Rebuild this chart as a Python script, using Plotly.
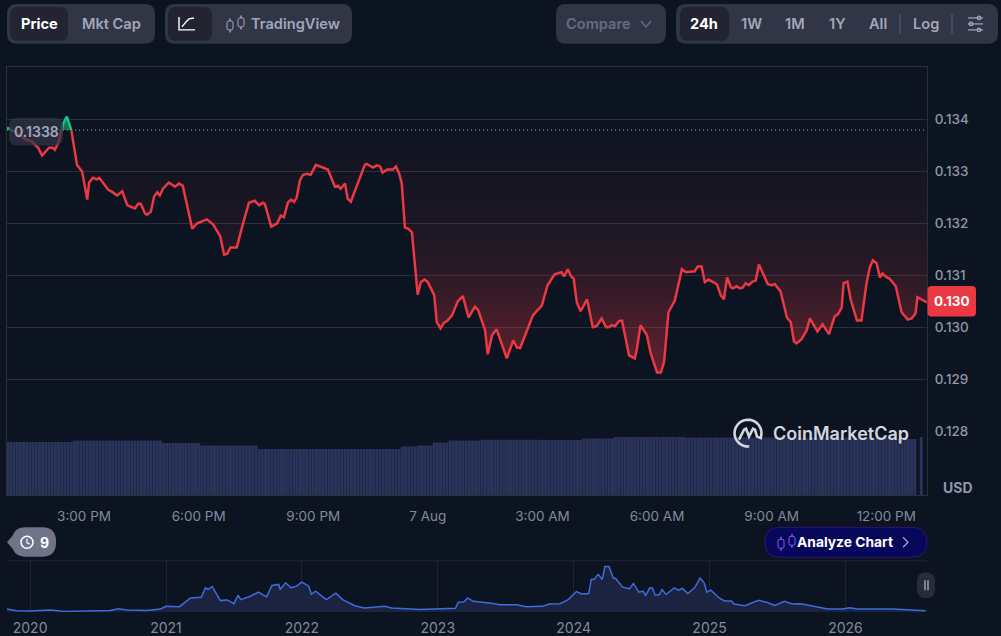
import math

import numpy as np
import pandas as pd
import plotly.graph_objects as go

W, H = 1001, 636
BG = "#0d1421"
GRID = "#2a2f3c"
PANEL = "#323546"
TAB = "#222531"
MUTED = "#a1a7bb"
AXIS_TEXT = "#808a9d"
RED = "#ea3943"
GREEN = "#16c784"
FONT = "Inter"

# --- Data ---
BASE_DAY = "2026-08-06"
BASELINE = 0.1338
PRICE_TICKS = [0.128, 0.129, 0.130, 0.131, 0.132, 0.133, 0.134]

# minutes after midnight of 6 Aug
price_minutes = [
    779, 785, 792, 807, 818, 828, 834, 845, 851, 854, 859, 865, 867, 873, 878, 880, 881, 889, 897, 905,
    908, 914, 920, 924, 938, 944, 952, 960, 968, 977, 980, 985, 989, 996, 999, 1005, 1010, 1015, 1019, 1024,
    1033, 1043, 1049, 1055, 1070, 1077, 1093, 1103, 1114, 1120, 1125, 1130, 1140, 1148, 1159, 1168, 1175, 1181, 1184, 1194,
    1203, 1209, 1214, 1220, 1225, 1230, 1234, 1239, 1244, 1250, 1256, 1264, 1275, 1283, 1294, 1299, 1303, 1310, 1314, 1319,
    1341, 1344, 1354, 1360, 1365, 1369, 1376, 1385, 1390, 1395, 1399, 1404, 1409, 1415, 1424, 1429, 1435, 1440, 1450, 1454,
    1460, 1465, 1471, 1478, 1487, 1495, 1504, 1514, 1519, 1530, 1534, 1541, 1548, 1564, 1574, 1580, 1585, 1605, 1611, 1619,
    1628, 1639, 1650, 1654, 1660, 1665, 1669, 1674, 1680, 1690, 1699, 1705, 1713, 1720, 1724, 1729, 1734, 1740, 1745, 1756,
    1765, 1768, 1774, 1784, 1790, 1800, 1806, 1811, 1818, 1828, 1839, 1845, 1859, 1864, 1870, 1875, 1881, 1894, 1900, 1905,
    1910, 1916, 1919, 1925, 1930, 1935, 1939, 1944, 1950, 1955, 1960, 1974, 1980, 1985, 1994, 2004, 2010, 2015, 2019, 2027,
    2035, 2040, 2052, 2060, 2070, 2079, 2084, 2090, 2093, 2099, 2104, 2114, 2121, 2129, 2134, 2139, 2145, 2150, 2154, 2161,
    2165, 2175, 2184, 2194, 2200, 2206, 2209, 2224,
]
prices = [
    0.13385, 0.1338, 0.13377, 0.13363, 0.13358, 0.13346, 0.13331, 0.13346, 0.13346, 0.13342, 0.13354, 0.1338, 0.13392, 0.13406, 0.13388, 0.1338, 0.13373, 0.13313, 0.133, 0.13246,
    0.13279, 0.13288, 0.13285, 0.13288, 0.13265, 0.13261, 0.13254, 0.13262, 0.13235, 0.13231, 0.13229, 0.13238, 0.13238, 0.13219, 0.13217, 0.13223, 0.13252, 0.1326, 0.13254, 0.13267,
    0.13279, 0.13271, 0.13277, 0.13273, 0.1319, 0.132, 0.13208, 0.13198, 0.13175, 0.1314, 0.13142, 0.13154, 0.13154, 0.13192, 0.1324, 0.13244, 0.13235, 0.1324, 0.13238, 0.13194,
    0.132, 0.13215, 0.13212, 0.1324, 0.13246, 0.13242, 0.1325, 0.13283, 0.13294, 0.13296, 0.13294, 0.13313, 0.13308, 0.13304, 0.13271, 0.13273, 0.13267, 0.13277, 0.13248, 0.13242,
    0.13313, 0.13315, 0.13308, 0.13312, 0.1331, 0.13298, 0.13304, 0.13304, 0.1331, 0.13296, 0.13277, 0.13192, 0.1319, 0.13183, 0.13063, 0.13087, 0.13092, 0.13087, 0.13062, 0.1301,
    0.12998, 0.13008, 0.13013, 0.13023, 0.1305, 0.1306, 0.13019, 0.1304, 0.13033, 0.12994, 0.12948, 0.12985, 0.12996, 0.1294, 0.12975, 0.12961, 0.1296, 0.13023, 0.13031, 0.13042,
    0.13081, 0.13102, 0.13106, 0.13098, 0.13112, 0.13098, 0.13094, 0.13048, 0.13031, 0.13054, 0.13, 0.13002, 0.13017, 0.13, 0.13, 0.13004, 0.13002, 0.13012, 0.13013, 0.12946,
    0.1294, 0.12956, 0.13004, 0.12985, 0.1295, 0.12913, 0.12913, 0.12933, 0.13029, 0.13052, 0.13112, 0.13106, 0.13108, 0.13117, 0.13117, 0.13087, 0.13092, 0.13083, 0.13062, 0.13054,
    0.13096, 0.13077, 0.13075, 0.13079, 0.13075, 0.13077, 0.13085, 0.13081, 0.13088, 0.1309, 0.13121, 0.13083, 0.13081, 0.13083, 0.13069, 0.13019, 0.1301, 0.12973, 0.12969, 0.12977,
    0.12994, 0.13017, 0.12992, 0.13006, 0.12987, 0.13021, 0.13025, 0.13038, 0.13085, 0.13088, 0.13054, 0.13013, 0.13013, 0.13085, 0.13115, 0.13129, 0.13123, 0.13096, 0.13104, 0.13096,
    0.13094, 0.13079, 0.13029, 0.13015, 0.13017, 0.13027, 0.13058, 0.13048,
]

# volume bars come every 5 minutes, the picture shows them as long flat steps
volume_levels = [53, 54.5, 52, 49.5, 46, 48.5, 49.5, 52.5, 54.5, 55.3, 55, 56.5, 58, 57.5, 56, 0, 58]
volume_runs = [21, 28, 12, 18, 45, 5, 5, 5, 10, 19, 13, 10, 22, 66, 7, 1, 1]

time_ticks = [900, 1080, 1260, 1440, 1620, 1800, 1980, 2160]
time_labels = ["3:00 PM", "6:00 PM", "9:00 PM", "7 Aug", "3:00 AM", "6:00 AM", "9:00 AM", "12:00 PM"]

history_years = [
    2019.83, 2019.90, 2020.00, 2020.10, 2020.15, 2020.25, 2020.39, 2020.59, 2020.65, 2020.71, 2020.86, 2020.96, 2021.00, 2021.10,
    2021.18, 2021.26, 2021.29, 2021.31, 2021.34, 2021.37, 2021.40, 2021.45, 2021.50, 2021.53, 2021.55, 2021.62, 2021.68, 2021.74,
    2021.78, 2021.83, 2021.84, 2021.88, 2021.92, 2021.96, 2022.00, 2022.05, 2022.07, 2022.10, 2022.18, 2022.25, 2022.30, 2022.39,
    2022.46, 2022.61, 2022.66, 2022.87, 2022.99, 2023.13, 2023.15, 2023.19, 2023.22, 2023.26, 2023.38, 2023.46, 2023.58, 2023.65,
    2023.77, 2023.82, 2023.90, 2023.96, 2024.02, 2024.06, 2024.11, 2024.13, 2024.15, 2024.18, 2024.21, 2024.23, 2024.26, 2024.29,
    2024.31, 2024.36, 2024.41, 2024.44, 2024.48, 2024.51, 2024.53, 2024.56, 2024.58, 2024.60, 2024.63, 2024.65, 2024.68, 2024.74,
    2024.77, 2024.80, 2024.84, 2024.89, 2024.93, 2024.96, 2024.98, 2025.01, 2025.07, 2025.11, 2025.16, 2025.18, 2025.26, 2025.36,
    2025.42, 2025.48, 2025.55, 2025.61, 2025.67, 2025.78, 2025.87, 2025.98, 2026.03, 2026.09, 2026.35, 2026.59,
]
history_prices = [
    0.18, 0.08, 0.06, 0.08, 0.12, 0.04, 0.08, 0.10, 0.20, 0.12, 0.10, 0.18, 0.34, 0.32,
    0.84, 0.88, 1.44, 1.34, 1.52, 1.14, 0.68, 0.72, 0.50, 1.00, 0.74, 0.94, 1.18, 0.90,
    1.58, 1.64, 1.34, 1.74, 1.44, 1.54, 1.78, 1.54, 1.06, 1.24, 0.74, 1.12, 0.74, 0.38,
    0.24, 0.34, 0.24, 0.16, 0.18, 0.22, 0.58, 0.60, 0.84, 0.64, 0.54, 0.44, 0.44, 0.32,
    0.34, 0.48, 0.50, 0.74, 1.22, 1.08, 1.10, 1.94, 1.94, 2.24, 1.94, 2.70, 2.70, 2.04,
    1.98, 1.48, 1.38, 1.70, 1.18, 1.24, 1.00, 1.44, 1.42, 1.00, 1.04, 1.34, 1.04, 1.44,
    1.30, 1.40, 1.10, 1.44, 2.02, 1.74, 1.18, 1.30, 0.84, 0.66, 0.66, 0.48, 0.38, 0.70,
    0.58, 0.40, 0.64, 0.48, 0.50, 0.30, 0.18, 0.18, 0.26, 0.18, 0.18, 0.08,
]
year_ticks = [2020, 2021, 2022, 2023, 2024, 2025, 2026]


def to_time(minutes):
    return pd.Timestamp(BASE_DAY) + pd.to_timedelta(minutes, unit="min")


def fx(px):
    return px / W


def fy(py):
    return 1 - py / H


def path_of(points, close=False):
    """Pixel points to a paper path."""
    cmds = [("M" if i == 0 else "L") + f"{fx(x):.5f},{fy(y):.5f}" for i, (x, y) in enumerate(points)]
    return " ".join(cmds) + (" Z" if close else "")


def rounded(x0, y0, x1, y1, r):
    c = lambda x, y: f"{fx(x):.5f},{fy(y):.5f}"
    return (f"M{c(x0 + r, y0)} L{c(x1 - r, y0)} Q{c(x1, y0)} {c(x1, y0 + r)} L{c(x1, y1 - r)} "
            f"Q{c(x1, y1)} {c(x1 - r, y1)} L{c(x0 + r, y1)} Q{c(x0, y1)} {c(x0, y1 - r)} "
            f"L{c(x0, y0 + r)} Q{c(x0, y0)} {c(x0 + r, y0)} Z")


shapes = []
annotations = []


def box(x0, y0, x1, y1, r, fill, line=None, layer="above"):
    shapes.append(dict(type="path", path=rounded(x0, y0, x1, y1, r), xref="paper", yref="paper",
                       fillcolor=fill, line=dict(color=line or fill, width=1 if line else 0), layer=layer))


def stroke(points, color, width=1.5):
    shapes.append(dict(type="path", path=path_of(points), xref="paper", yref="paper",
                       line=dict(color=color, width=width), layer="above"))


def ring(cx, cy, r, color, width=1.5):
    shapes.append(dict(type="circle", xref="paper", yref="paper", x0=fx(cx - r), x1=fx(cx + r),
                       y0=fy(cy + r), y1=fy(cy - r), line=dict(color=color, width=width), layer="above"))


def label(px, py, text, size=14.6, color=MUTED, weight=600, anchor="center"):
    annotations.append(dict(x=fx(px), y=fy(py), xref="paper", yref="paper", text=text, showarrow=False,
                            xanchor=anchor, yanchor="middle", borderpad=0,
                            font=dict(family=FONT, size=size, color=color, weight=weight)))


def candle_icon(x, cy, color, fill):
    # two little candles, used on TradingView and Analyze Chart
    for cx, dy in ((x, 1.5), (x + 11, -1.5)):
        stroke([(cx, cy + dy - 7), (cx, cy + dy + 7)], color, 1.4)
        box(cx - 3, cy + dy - 4.5, cx + 3, cy + dy + 4.5, 2, fill, color)


# --- Toolbar ---
box(7, 4, 155, 44, 10, PANEL)
box(10, 7, 68, 41, 8, TAB)
label(39, 24, "Price", color="#ffffff", weight=700)
label(111, 24, "Mkt Cap")

box(165, 4, 352, 44, 10, PANEL)
box(168, 7, 212, 41, 8, TAB)
stroke([(179, 17), (179, 30), (195, 30)], "#ffffff", 1.4)
stroke([(182, 27), (186, 22), (189, 19), (194, 18)], "#ffffff", 1.4)
candle_icon(230, 24, MUTED, PANEL)
label(295, 24, "TradingView")

box(556, 4, 666, 44, 10, PANEL)
label(598, 24, "Compare", color="#616e85")
stroke([(641, 21), (646, 27), (651, 21)], "#616e85", 1.4)

box(676, 4, 998, 44, 10, PANEL)
box(680, 7, 729, 41, 8, TAB)
label(704, 24, "24h", color="#ffffff", weight=700)
for cx, txt in ((751, "1W"), (795, "1M"), (837, "1Y"), (878, "All"), (926, "Log")):
    label(cx, 24, txt)
for sx in (900, 952):
    stroke([(sx, 14), (sx, 34)], "#5a5f72", 1)
for sy, kx in ((18, 979), (24, 971), (30, 979)):
    stroke([(968, sy), (983, sy)], MUTED, 1.2)
    ring(kx, sy, 1.8, MUTED, 1.2)

# --- Floating badges ---
box(9, 118, 63, 146, 8, "rgba(50,53,70,0.72)")
label(36, 132, "0.1338", size=14, color=MUTED, weight=600)

box(927.5, 287, 976, 317.5, 4, RED)
label(951.5, 302, "0.130", size=13.5, color="#ffffff", weight=700)
label(958, 489.5, "USD", size=14, color="#8f96a8", weight=700)

shapes.append(dict(type="path", xref="paper", yref="paper", layer="above", fillcolor="#6f7488", line=dict(width=0),
                   path=path_of([(7, 544), (14, 536), (14, 552)], close=True)))
box(12, 529, 56, 558.5, 14, "#6f7488")
ring(27, 544, 6, "#ffffff", 1.5)
stroke([(27, 540.5), (27, 544.5), (30, 546)], "#ffffff", 1.2)
label(44, 544, "9", size=14, color="#ffffff", weight=700)

box(765, 529, 927, 559, 15, "#07075c", "#33146f")
candle_icon(781, 544, "#8b5cf6", "#07075c")
label(845, 544, "Analyze Chart", size=13.8, color="#ffffff", weight=700)
stroke([(903, 539), (908, 544), (903, 549)], MUTED, 1.3)

box(917, 574, 935, 600, 9, "#282b3a")
stroke([(925, 582), (925, 592)], MUTED, 1.4)
stroke([(928, 582), (928, 592)], MUTED, 1.4)

# --- Watermark ---
LOGO = "#d3d6de"
arc = [(748 + 13.5 * math.cos(math.radians(a)), 434.5 - 13.5 * math.sin(math.radians(a))) for a in range(-25, 290, 15)]
stroke(arc, LOGO, 2.6)
stroke([(739, 441), (744, 431), (746, 430), (749, 438), (753, 430), (755, 431), (757, 438), (762, 440)], LOGO, 2.6)
label(772, 435, "CoinMarketCap", size=18, color=LOGO, weight=600, anchor="left")

# --- Traces ---
times = to_time(np.array(price_minutes))
price_arr = np.array(prices)
base_arr = np.full(len(prices), BASELINE)
volumes = np.repeat(volume_levels, volume_runs)
volume_times = to_time(780 + 5 * np.arange(len(volumes)))

fig = go.Figure()

# fills between the open price and the line
fig.add_trace(go.Scatter(x=times, y=base_arr, mode="lines", line=dict(width=0), hoverinfo="skip"))
fig.add_trace(go.Scatter(x=times, y=np.minimum(price_arr, BASELINE), mode="lines", line=dict(width=0), fill="tonexty",
                         fillgradient=dict(type="vertical", colorscale=[
                             [0, "rgba(234,57,67,0.38)"], [0.19, "rgba(234,57,67,0.27)"], [0.4, "rgba(234,57,67,0.14)"],
                             [0.6, "rgba(234,57,67,0.07)"], [1, "rgba(234,57,67,0.01)"]])))
fig.add_trace(go.Scatter(x=times, y=base_arr, mode="lines", line=dict(width=0), hoverinfo="skip"))
fig.add_trace(go.Scatter(x=times, y=np.maximum(price_arr, BASELINE), mode="lines", line=dict(width=0), fill="tonexty",
                         fillcolor="rgba(22,199,132,0.55)"))

fig.add_trace(go.Scatter(x=times, y=base_arr, mode="lines", line=dict(color="#9aa0b0", width=1, dash="1px,3px")))
fig.add_trace(go.Scatter(x=times, y=np.where(price_arr <= BASELINE, price_arr, np.nan), mode="lines",
                         line=dict(color=RED, width=2.5)))
fig.add_trace(go.Scatter(x=times, y=np.where(price_arr >= BASELINE, price_arr, np.nan), mode="lines",
                         line=dict(color=GREEN, width=2.5)))

fig.add_trace(go.Bar(x=volume_times, y=volumes, yaxis="y2", marker=dict(color="#2a3359", line=dict(width=0))))

fig.add_trace(go.Scatter(x=history_years, y=history_prices, xaxis="x3", yaxis="y3", mode="lines",
                         line=dict(color="#3f6bdc", width=1.5), fill="tozeroy", fillcolor="#1c2340"))

fig.update_layout(
    width=W, height=H, margin=dict(l=0, r=0, t=0, b=0), autosize=False,
    paper_bgcolor=BG, plot_bgcolor=BG, showlegend=False, hovermode=False, bargap=0.05,
    font=dict(family=FONT),
    shapes=shapes + [dict(type="line", xref="paper", yref="paper", x0=fx(7), x1=fx(927), y0=fy(562.5), y1=fy(562.5),
                          line=dict(color="#222531", width=1))],
    annotations=annotations,
    xaxis=dict(domain=[fx(7), fx(927)], range=[to_time(779), to_time(2224)], anchor="y",
               tickvals=to_time(np.array(time_ticks)), ticktext=time_labels, showgrid=False,
               tickfont=dict(size=13.5, color=AXIS_TEXT), ticks="outside", ticklen=9, tickcolor=BG,
               showline=True, linecolor=GRID, mirror=True),
    yaxis=dict(domain=[fy(496.5), fy(67)], range=[0.12677, 0.13502], side="right", tickvals=PRICE_TICKS, tickformat=".3f",
               gridcolor=GRID, gridwidth=1, zeroline=False, tickfont=dict(size=13.5, color="#8f96a8", weight=500),
               ticks="outside", ticklen=4, tickcolor=BG, showline=True, linecolor=GRID, mirror=True),
    yaxis2=dict(domain=[fy(496.5), fy(431.5)], range=[0, 65], anchor="x", visible=False),
    xaxis3=dict(domain=[fx(7), fx(927)], range=[2019.83, 2026.6], anchor="y3", tickvals=year_ticks,
                ticktext=[str(y) for y in year_ticks], gridcolor="#222531", zeroline=False,
                tickfont=dict(size=14, color=AXIS_TEXT), ticks="outside", ticklen=3, tickcolor=BG, showline=False),
    yaxis3=dict(domain=[fy(614), fy(563)], range=[0, 3.02], visible=False),
)

fig.write_html("out.html", config={"displayModeBar": False},
               post_script="document.body.style.margin='0';document.body.style.background='%s';" % BG)
